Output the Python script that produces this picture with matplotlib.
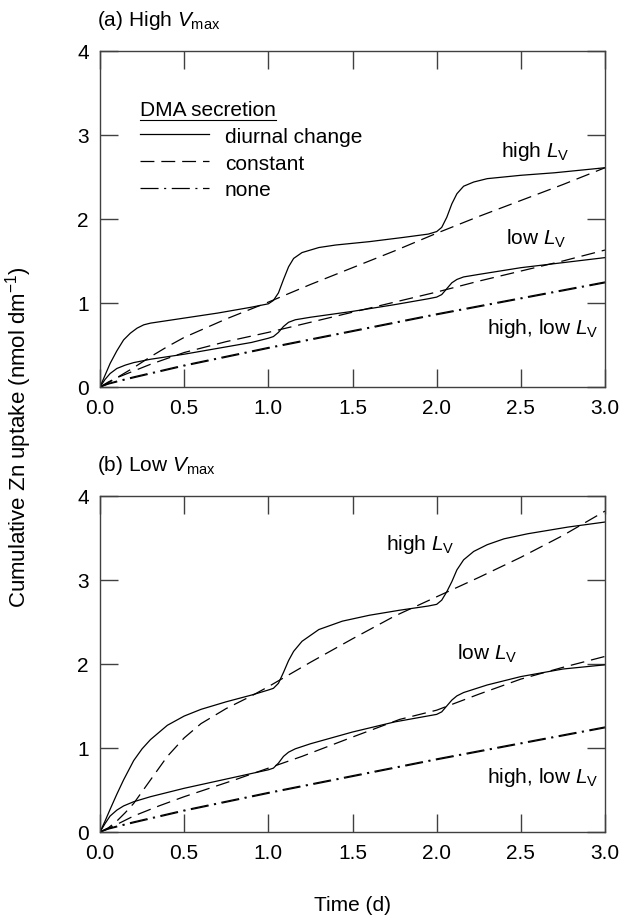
import matplotlib
matplotlib.use("Agg")
import matplotlib.pyplot as plt
from matplotlib.lines import Line2D

plt.rcParams['font.family'] = ['Liberation Sans', 'DejaVu Sans']
plt.rcParams['mathtext.fontset'] = 'custom'
plt.rcParams['mathtext.rm'] = 'Liberation Sans'
plt.rcParams['mathtext.it'] = 'Liberation Sans:italic'
plt.rcParams['lines.scale_dashes'] = False

# ---------------- data ----------------
# Panel (a) high Vmax
a_diur_hi_t = [0, 0.03, 0.06, 0.1, 0.14, 0.18, 0.22, 0.26, 0.3, 0.4, 0.5, 0.7, 0.9, 1.0, 1.03, 1.06, 1.09,
               1.12, 1.15, 1.2, 1.3, 1.4, 1.6, 1.8, 1.95, 2.0, 2.03, 2.06, 2.09, 2.12, 2.16, 2.22, 2.3,
               2.5, 2.7, 3.0]
a_diur_hi_y = [0, 0.14, 0.28, 0.43, 0.56, 0.64, 0.70, 0.74, 0.76, 0.79, 0.82, 0.88, 0.95, 0.99, 1.03, 1.12, 1.28,
               1.43, 1.53, 1.60, 1.66, 1.69, 1.73, 1.78, 1.82, 1.85, 1.90, 2.02, 2.18, 2.30, 2.39, 2.44, 2.48,
               2.52, 2.55, 2.61]
a_const_hi_t = [0, 0.05, 0.1, 0.2, 0.3, 0.4, 0.5, 0.75, 1.0, 1.25, 1.5, 1.75, 2.0, 2.25, 2.5, 2.75, 3.0]
a_const_hi_y = [0, 0.05, 0.11, 0.23, 0.36, 0.48, 0.59, 0.81, 1.01, 1.22, 1.42, 1.62, 1.83, 2.03, 2.22, 2.41, 2.61]
a_diur_lo_t = [0, 0.03, 0.06, 0.1, 0.15, 0.2, 0.3, 0.5, 0.7, 0.9, 1.0, 1.03, 1.06, 1.09, 1.12, 1.16, 1.25,
               1.5, 1.75, 1.95, 2.0, 2.03, 2.06, 2.09, 2.12, 2.16, 2.25, 2.5, 2.75, 3.0]
a_diur_lo_y = [0, 0.09, 0.16, 0.22, 0.26, 0.29, 0.33, 0.39, 0.46, 0.53, 0.58, 0.60, 0.65, 0.72, 0.77, 0.80, 0.83,
               0.90, 0.98, 1.05, 1.07, 1.10, 1.17, 1.24, 1.28, 1.31, 1.34, 1.42, 1.48, 1.54]
a_const_lo_t = [0, 0.05, 0.1, 0.2, 0.3, 0.5, 0.75, 1.0, 1.25, 1.5, 1.75, 2.0, 2.25, 2.5, 2.75, 3.0]
a_const_lo_y = [0, 0.06, 0.11, 0.19, 0.27, 0.41, 0.54, 0.65, 0.77, 0.89, 1.01, 1.13, 1.26, 1.38, 1.50, 1.63]
a_none_hi_t = [0, 0.05, 0.1, 0.2, 0.5, 1.0, 1.5, 2.0, 2.5, 3.0]
a_none_hi_y = [0, 0.04, 0.07, 0.12, 0.26, 0.47, 0.67, 0.87, 1.06, 1.25]
a_none_lo_t = [0, 0.05, 0.1, 0.2, 0.5, 1.0, 1.5, 2.0, 2.5, 3.0]
a_none_lo_y = [0, 0.035, 0.06, 0.11, 0.25, 0.46, 0.66, 0.86, 1.05, 1.24]

# Panel (b) low Vmax
b_diur_hi_t = [0, 0.03, 0.06, 0.1, 0.14, 0.2, 0.25, 0.3, 0.4, 0.5, 0.6, 0.75, 0.9, 1.0, 1.03, 1.06, 1.09,
               1.12, 1.15, 1.2, 1.3, 1.44, 1.6, 1.78, 1.95, 2.0, 2.03, 2.06, 2.09, 2.12, 2.16, 2.22, 2.3,
               2.4, 2.54, 2.78, 3.0]
b_diur_hi_y = [0, 0.13, 0.27, 0.45, 0.62, 0.85, 0.99, 1.10, 1.27, 1.38, 1.46, 1.55, 1.63, 1.69, 1.71, 1.77, 1.90,
               2.04, 2.15, 2.27, 2.41, 2.51, 2.58, 2.64, 2.69, 2.71, 2.76, 2.86, 2.98, 3.12, 3.24, 3.34, 3.42,
               3.49, 3.55, 3.63, 3.69]
b_const_hi_t = [0, 0.05, 0.1, 0.15, 0.2, 0.3, 0.4, 0.5, 0.6, 0.75, 0.9, 1.0, 1.25, 1.5, 1.75, 2.0, 2.25, 2.5,
                2.75, 3.0]
b_const_hi_y = [0, 0.05, 0.13, 0.23, 0.34, 0.62, 0.90, 1.12, 1.29, 1.47, 1.62, 1.73, 2.02, 2.30, 2.57, 2.80, 3.03,
                3.27, 3.53, 3.82]
b_diur_lo_t = [0, 0.03, 0.06, 0.1, 0.14, 0.2, 0.3, 0.5, 0.75, 1.0, 1.03, 1.06, 1.09, 1.12, 1.16, 1.25, 1.5,
               1.75, 2.0, 2.03, 2.06, 2.09, 2.12, 2.16, 2.3, 2.5, 2.75, 3.0]
b_diur_lo_y = [0, 0.10, 0.19, 0.26, 0.31, 0.36, 0.42, 0.52, 0.63, 0.74, 0.76, 0.82, 0.90, 0.95, 0.99, 1.05, 1.19,
               1.31, 1.40, 1.43, 1.50, 1.57, 1.62, 1.66, 1.75, 1.85, 1.94, 1.99]
b_const_lo_t = [0, 0.1, 0.2, 0.35, 0.5, 0.65, 0.8, 1.0, 1.2, 1.5, 1.78, 2.0, 2.25, 2.5, 2.75, 3.0]
b_const_lo_y = [0, 0.09, 0.19, 0.31, 0.42, 0.52, 0.62, 0.76, 0.90, 1.13, 1.34, 1.45, 1.64, 1.82, 1.96, 2.09]
b_none_hi_t = [0, 0.05, 0.1, 0.2, 0.5, 1.0, 1.5, 2.0, 2.5, 3.0]
b_none_hi_y = [0, 0.04, 0.07, 0.12, 0.26, 0.47, 0.67, 0.87, 1.06, 1.25]
b_none_lo_t = [0, 0.05, 0.1, 0.2, 0.5, 1.0, 1.5, 2.0, 2.5, 3.0]
b_none_lo_y = [0, 0.035, 0.06, 0.11, 0.25, 0.46, 0.66, 0.86, 1.05, 1.24]

x_ticks = [0.0, 0.5, 1.0, 1.5, 2.0, 2.5, 3.0]
x_ticklabels = ["0.0", "0.5", "1.0", "1.5", "2.0", "2.5", "3.0"]
y_ticks = [0, 1, 2, 3, 4]
y_ticklabels = ["0", "1", "2", "3", "4"]

legend_labels = ["diurnal change", "constant", "none"]

# ---------------- styling ----------------
FS = 15
LW = 0.9
DASH = (0, (10, 5))
DASHDOT = (0, (13, 4, 1.5, 4))
SPINE = '#404040'

fig = plt.figure(figsize=(6.22, 9.2), dpi=100)
ax_a = fig.add_axes([0.1608, 0.5783, 0.8119, 0.3652])
ax_b = fig.add_axes([0.1608, 0.0946, 0.8119, 0.3652])


def style(ax):
    ax.set_xlim(0, 3)
    ax.set_ylim(0, 4)
    ax.set_xticks(x_ticks)
    ax.set_xticklabels(x_ticklabels)
    ax.set_yticks(y_ticks)
    ax.set_yticklabels(y_ticklabels)
    ax.tick_params(direction='in', length=13, width=1.0, color=SPINE,
                   top=True, right=True, labelsize=FS, pad=8)
    for s in ax.spines.values():
        s.set_color(SPINE)
        s.set_linewidth(1.0)


panels = [
    (ax_a, (a_diur_hi_t, a_diur_hi_y), (a_const_hi_t, a_const_hi_y), (a_diur_lo_t, a_diur_lo_y),
     (a_const_lo_t, a_const_lo_y), (a_none_hi_t, a_none_hi_y), (a_none_lo_t, a_none_lo_y)),
    (ax_b, (b_diur_hi_t, b_diur_hi_y), (b_const_hi_t, b_const_hi_y), (b_diur_lo_t, b_diur_lo_y),
     (b_const_lo_t, b_const_lo_y), (b_none_hi_t, b_none_hi_y), (b_none_lo_t, b_none_lo_y)),
]
for ax, dh, ch, dl, cl, nh, nl in panels:
    ax.plot(*dh, color='black', lw=LW, ls='-')
    ax.plot(*dl, color='black', lw=LW, ls='-')
    ax.plot(*ch, color='black', lw=LW, ls=DASH)
    ax.plot(*cl, color='black', lw=LW, ls=DASH)
    ax.plot(*nh, color='black', lw=LW, ls=DASHDOT)
    ax.plot(*nl, color='black', lw=LW, ls=DASHDOT)
    style(ax)

# annotations
lv_hi = r"high $\mathit{L}_{\mathrm{V}}$"
lv_lo = r"low $\mathit{L}_{\mathrm{V}}$"
lv_both = r"high, low $\mathit{L}_{\mathrm{V}}$"
ax_a.text(2.38, 2.81, lv_hi, fontsize=FS, ha='left', va='center')
ax_a.text(2.41, 1.77, lv_lo, fontsize=FS, ha='left', va='center')
ax_a.text(2.30, 0.71, lv_both, fontsize=FS, ha='left', va='center')
ax_b.text(1.70, 3.44, lv_hi, fontsize=FS, ha='left', va='center')
ax_b.text(2.12, 2.13, lv_lo, fontsize=FS, ha='left', va='center')
ax_b.text(2.30, 0.66, lv_both, fontsize=FS, ha='left', va='center')

# legend
handles = [Line2D([], [], color='black', lw=LW, ls='-'),
           Line2D([], [], color='black', lw=LW, ls=DASH),
           Line2D([], [], color='black', lw=LW, ls=DASHDOT)]
leg = ax_a.legend(handles, legend_labels, title="DMA secretion", frameon=False,
                  loc='upper left', bbox_to_anchor=(0.080, 0.855), fontsize=FS,
                  title_fontsize=FS, handlelength=3.3, handletextpad=0.75,
                  labelspacing=0.38, borderpad=0, borderaxespad=0, alignment='left')

# panel titles
fig.text(0.156, 0.978, r"(a) High $\mathit{V}_{\mathrm{max}}$", fontsize=FS, ha='left', va='center')
fig.text(0.156, 0.494, r"(b) Low $\mathit{V}_{\mathrm{max}}$", fontsize=FS, ha='left', va='center')

# axis labels
fig.text(0.030, 0.525, r"Cumulative Zn uptake (nmol dm$^{\mathrm{-1}}$)", fontsize=16,
         rotation=90, ha='center', va='center')
fig.text(0.567, 0.016, "Time (d)", fontsize=FS, ha='center', va='center')

# underline legend title
fig.canvas.draw()
tb = leg.get_title().get_window_extent()
inv = fig.transFigure.inverted()
(x0, y0), (x1, _) = inv.transform([(tb.x0, tb.y0 - 1), (tb.x1, tb.y0 - 1)])
fig.add_artist(Line2D([x0, x1], [y0, y0], color='black', lw=0.8, transform=fig.transFigure))

fig.savefig("out.png", dpi=100)
